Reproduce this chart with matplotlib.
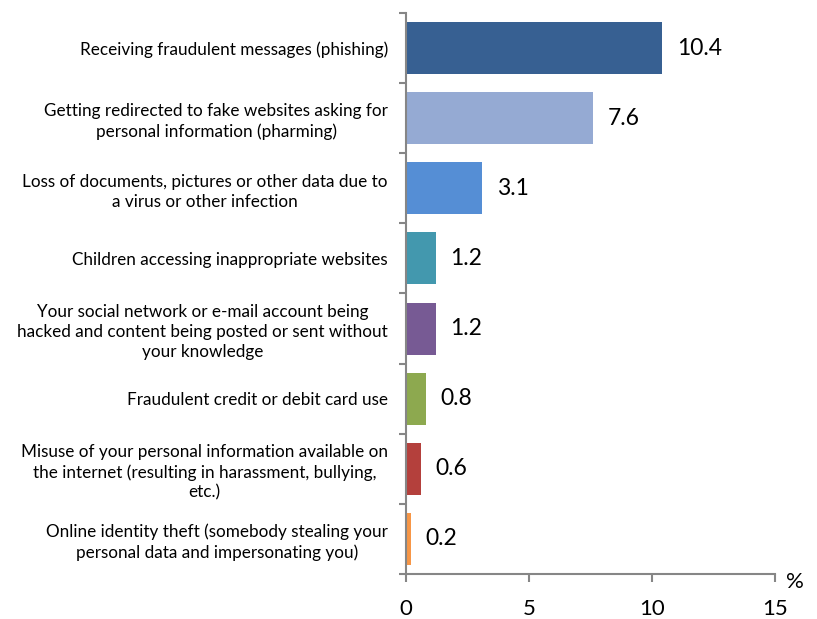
import matplotlib.pyplot as plt
import numpy as np

categories = [
    "Receiving fraudulent messages (phishing)",
    "Getting redirected to fake websites asking for\npersonal information (pharming)",
    "Loss of documents, pictures or other data due to\na virus or other infection",
    "Children accessing inappropriate websites",
    "Your social network or e-mail account being\nhacked and content being posted or sent without\nyour knowledge",
    "Fraudulent credit or debit card use",
    "Misuse of your personal information available on\nthe internet (resulting in harassment, bullying,\netc.)",
    "Online identity theft (somebody stealing your\npersonal data and impersonating you)",
]
values = [10.4, 7.6, 3.1, 1.2, 1.2, 0.8, 0.6, 0.2]
colors = ["#376092", "#95AAD3", "#558ED5", "#4398AE", "#775A94", "#8DA94F", "#B4403C", "#F79646"]
x_ticks = [0, 5, 10, 15]

plt.rcParams["font.family"] = ["Lato", "DejaVu Sans"]

fig = plt.figure(figsize=(8.17, 6.19), dpi=100)
ax = fig.add_axes([0.497, 0.0727, 0.4516, 0.9063])

n = len(categories)
y = np.arange(n)
ax.barh(y, values, height=0.74, color=colors)
ax.set_ylim(n - 0.5, -0.5)
ax.set_xlim(0, 15)

for yi, v in zip(y, values):
    ax.text(v + 0.6, yi, f"{v:.1f}", va="center", ha="left", fontsize=16.5)

# category labels, ticks at the band boundaries
ax.set_yticks(np.arange(n + 1) - 0.5)
ax.set_yticklabels([])
ax.set_yticks(y, minor=True)
ax.set_yticklabels(categories, minor=True, fontsize=12.3, ha="right",
                   multialignment="center", linespacing=1.3)
ax.tick_params(axis="y", which="minor", length=0, pad=13)
ax.tick_params(axis="y", which="major", length=5, color="#868686", width=1.5)

ax.set_xticks(x_ticks)
ax.set_xticklabels([str(t) for t in x_ticks], fontsize=16)
ax.tick_params(axis="x", length=6, color="#868686", width=1.5, pad=12)

for s in ["top", "right"]:
    ax.spines[s].set_visible(False)
for s in ["left", "bottom"]:
    ax.spines[s].set_color("#868686")
    ax.spines[s].set_linewidth(1.5)

fig.text(0.973, 0.06, "%", fontsize=16, ha="center", va="center")

fig.savefig("out.png", dpi=100)
